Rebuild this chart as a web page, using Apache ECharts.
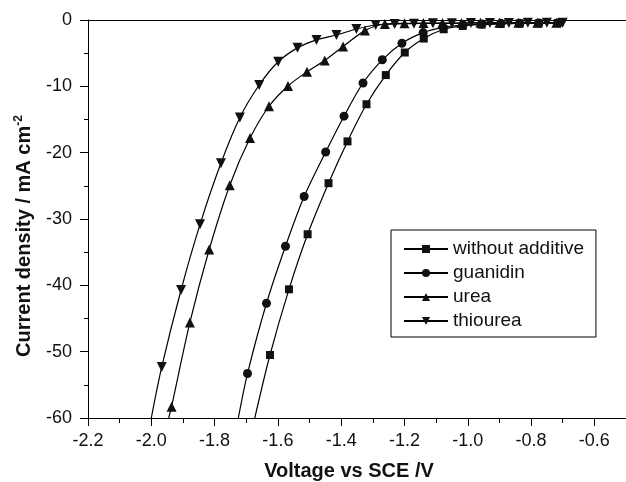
<!DOCTYPE html>
<html>
<head>
<meta charset="utf-8">
<script src="https://cdn.jsdelivr.net/npm/echarts@6/dist/echarts.min.js"></script>
<style>
  html, body { margin: 0; padding: 0; background: #fff; }
  #chart { width: 626px; height: 482px; }
</style>
</head>
<body>
<div id="chart"></div>
<script>
// first point of each series is where the curve leaves the bottom edge (no marker)
const withoutV = [-1.673, -1.625, -1.565, -1.506, -1.440, -1.380, -1.320, -1.259, -1.199, -1.139, -1.076, -1.016, -0.956, -0.896, -0.836, -0.776, -0.716];
const withoutI = [-60, -50.5, -40.6, -32.3, -24.6, -18.3, -12.7, -8.3, -4.9, -2.8, -1.4, -0.9, -0.7, -0.6, -0.5, -0.5, -0.45];

const guanidinV = [-1.725, -1.696, -1.636, -1.576, -1.517, -1.449, -1.391, -1.331, -1.270, -1.208, -1.141, -1.078, -1.015, -0.955, -0.895, -0.835, -0.775, -0.715];
const guanidinI = [-60, -53.3, -42.7, -34.1, -26.6, -19.9, -14.5, -9.5, -6.0, -3.5, -1.9, -1.1, -0.75, -0.6, -0.5, -0.5, -0.45, -0.45];

const ureaV = [-1.945, -1.936, -1.878, -1.817, -1.752, -1.688, -1.628, -1.568, -1.508, -1.452, -1.394, -1.325, -1.262, -1.200, -1.140, -1.080, -1.020, -0.960, -0.900, -0.840, -0.780, -0.720];
const ureaI = [-60, -58.3, -45.6, -34.6, -24.9, -17.8, -13.0, -9.95, -7.8, -6.1, -4.0, -1.6, -0.6, -0.5, -0.45, -0.45, -0.45, -0.4, -0.4, -0.4, -0.4, -0.4];

const thioureaV = [-2.0, -1.967, -1.906, -1.846, -1.780, -1.720, -1.659, -1.599, -1.538, -1.478, -1.415, -1.352, -1.291, -1.231, -1.170, -1.110, -1.050, -0.990, -0.930, -0.870, -0.810, -0.750, -0.700];
const thioureaI = [-60, -52.3, -40.7, -30.8, -21.6, -14.7, -9.8, -6.3, -4.2, -3.0, -2.26, -1.36, -0.75, -0.6, -0.55, -0.5, -0.5, -0.45, -0.45, -0.45, -0.4, -0.4, -0.4];

const names = ['without additive', 'guanidin', 'urea', 'thiourea'];

const FONT = 'Arial, "Liberation Sans", sans-serif';

function toData(xs, ys) {
  return xs.map((x, i) => i === 0 ? { value: [x, ys[i]], symbol: 'none' } : [x, ys[i]]);
}

function mkSeries(name, xs, ys, symbol, size, rotate) {
  return {
    name: name,
    type: 'line',
    smooth: 0.3,
    symbol: symbol,
    symbolSize: size,
    symbolRotate: rotate,
    showAllSymbol: true,
    lineStyle: { color: '#000', width: 1.2 },
    itemStyle: { color: '#111', borderWidth: 0 },
    emphasis: { disabled: true },
    data: toData(xs, ys)
  };
}

const chart = echarts.init(document.getElementById('chart'), null, { renderer: 'canvas' });

const opt = {
  animation: false,
  textStyle: { fontFamily: FONT },
  grid: { left: 88, top: 20, right: 0, bottom: 64 },
  legend: {
    orient: 'vertical',
    left: 391,
    top: 230,
    data: names,
    backgroundColor: '#fff',
    borderColor: '#000',
    borderWidth: 1,
    padding: [9, 12, 6, 12],
    itemWidth: 44,
    itemHeight: 10,
    itemGap: 4,
    textStyle: { fontSize: 19, lineHeight: 20, color: '#111', fontFamily: FONT }
  },
  xAxis: [{
    type: 'value',
    min: -2.2,
    max: -0.5,
    interval: 0.2,
    splitLine: { show: false },
    axisLine: { onZero: false, lineStyle: { color: '#000', width: 1 } },
    axisTick: { inside: false, length: 8, lineStyle: { color: '#000' } },
    minorTick: { show: true, splitNumber: 2, length: 5, lineStyle: { color: '#000' } },
    axisLabel: {
      showMaxLabel: false,
      margin: 14,
      fontSize: 18,
      color: '#111',
      formatter: v => v.toFixed(1)
    }
  }, {
    type: 'value',
    position: 'top',
    min: -2.2,
    max: -0.5,
    axisLine: { show: true, onZero: false, lineStyle: { color: '#000', width: 1 } },
    axisTick: { show: false },
    axisLabel: { show: false },
    splitLine: { show: false }
  }],
  yAxis: {
    type: 'value',
    min: -60,
    max: 0,
    interval: 10,
    splitLine: { show: false },
    axisLine: { show: true, onZero: false, lineStyle: { color: '#000', width: 1 } },
    axisTick: { show: true, length: 8, lineStyle: { color: '#000' } },
    minorTick: { show: true, splitNumber: 2, length: 4, lineStyle: { color: '#000' } },
    axisLabel: { margin: 16, fontSize: 18, color: '#111' }
  },
  graphic: [{
    type: 'text',
    x: 349,
    y: 471,
    style: {
      text: 'Voltage vs SCE /V',
      font: 'bold 20px ' + FONT,
      fill: '#111',
      align: 'center',
      verticalAlign: 'middle'
    }
  }, {
    type: 'text',
    x: 24,
    y: 236,
    rotation: Math.PI / 2,
    style: {
      text: 'Current density / mA cm{sup|-2}',
      font: 'bold 20px ' + FONT,
      fill: '#111',
      align: 'center',
      verticalAlign: 'middle',
      rich: {
        sup: { fontSize: 12, fontWeight: 'bold', verticalAlign: 'top', padding: [0, 0, 10, 0], fill: '#111' }
      }
    }
  }],
  series: [
    mkSeries(names[0], withoutV, withoutI, 'rect', 8, 0),
    mkSeries(names[1], guanidinV, guanidinI, 'circle', 9, 0),
    mkSeries(names[2], ureaV, ureaI, 'triangle', 10, 0),
    mkSeries(names[3], thioureaV, thioureaI, 'triangle', 10, 180)
  ]
};

chart.setOption(opt);
</script>
</body>
</html>
